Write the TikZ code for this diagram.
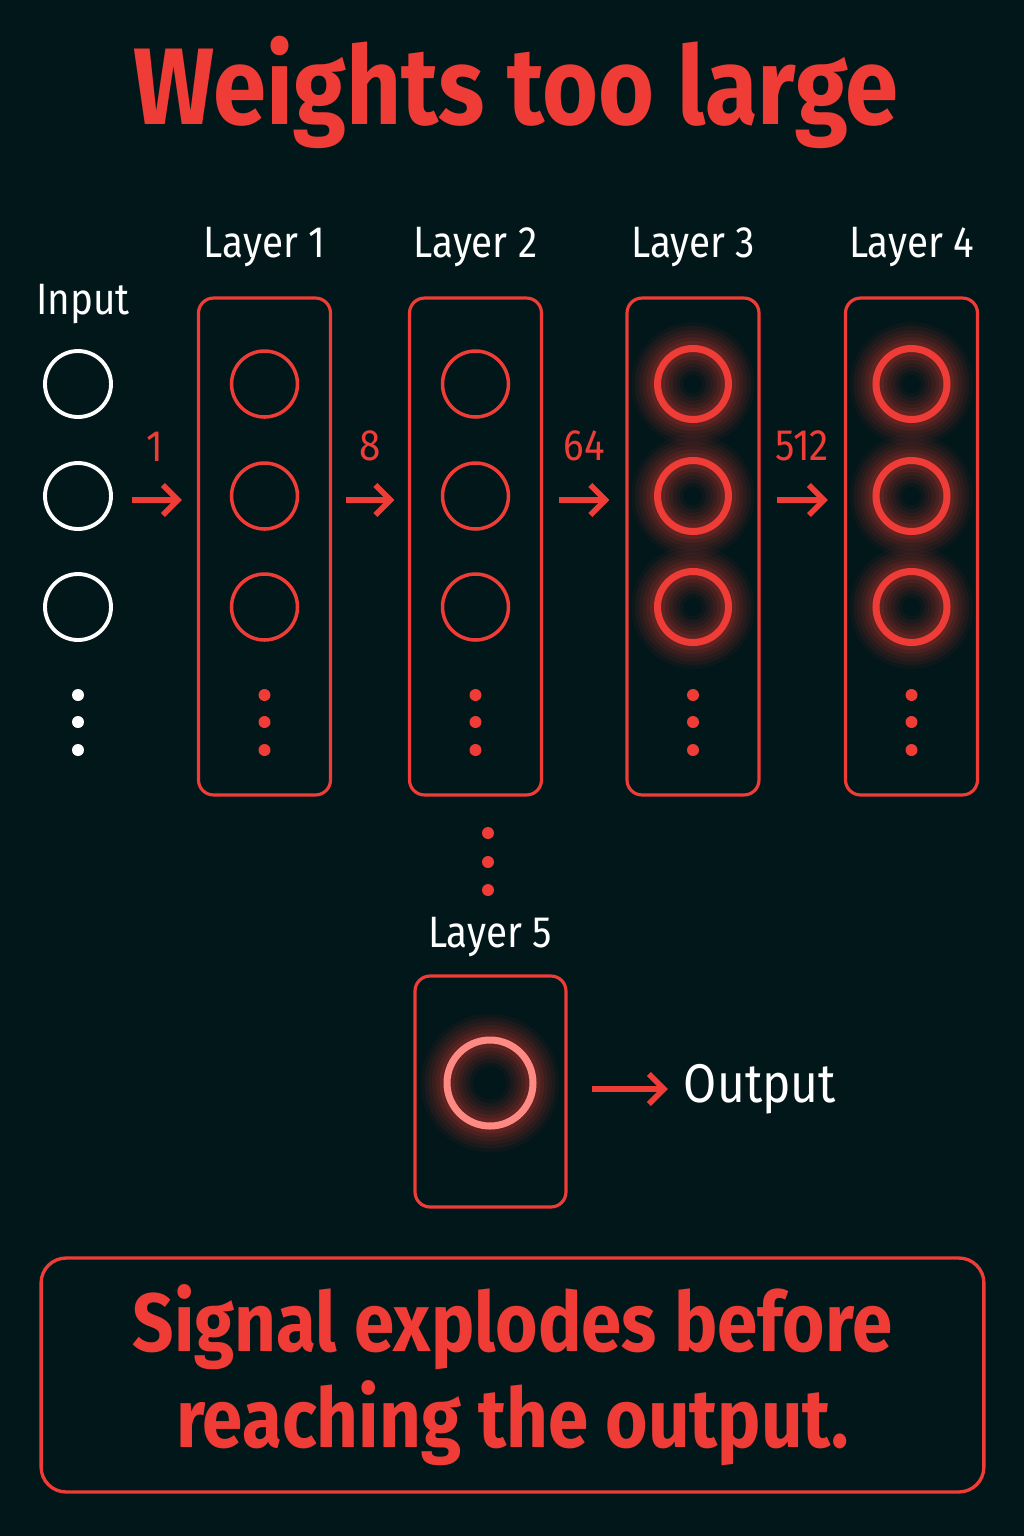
\documentclass[tikz,border=0pt]{standalone}
\usepackage{fontspec}
\setmainfont[FakeStretch=0.88]{Fira Sans}
\usetikzlibrary{arrows.meta}
\usetikzlibrary{positioning}
\definecolor{bg}{HTML}{02171A}
\definecolor{hot}{HTML}{F03C36}
\definecolor{pale}{HTML}{FF8A84}
\tikzstyle{layerbox} = [
        rectangle, draw=hot, line width=1.8pt,
        rounded corners=0.3cm,
        minimum width=2.64cm, minimum height=9.94cm
    ]
\tikzstyle{neuron} = [circle, draw=hot, line width=2pt, minimum size=1.32cm, inner sep=0pt]
\tikzstyle{inneuron} = [neuron, draw=white, line width=2.2pt]
\tikzstyle{glow} = [
        preaction={draw=hot, line width=1.05cm, opacity=0.05},
        preaction={draw=hot, line width=0.9cm, opacity=0.06},
        preaction={draw=hot, line width=0.75cm, opacity=0.07},
        preaction={draw=hot, line width=0.6cm, opacity=0.08},
        preaction={draw=hot, line width=0.45cm, opacity=0.1},
        preaction={draw=hot, line width=0.3cm, opacity=0.12}
    ]
\tikzstyle{hotneuron} = [neuron, glow, line width=4pt, minimum size=1.42cm]
\tikzstyle{dot} = [circle, fill=hot, minimum size=0.24cm, inner sep=0pt]
\tikzstyle{line} = [draw=hot, line width=3.2pt, -{Straight Barb[length=0.3cm,width=0.6cm]}]
\tikzstyle{num} = [text=hot, font=\fontsize{25}{27}\selectfont]
\tikzstyle{lab} = [text=white, font=\fontsize{25}{27}\selectfont]

\begin{document}
\begin{tikzpicture}[x=0.02cm, y=-0.02cm]
    \fill[bg] (0,0) rectangle (1024,1536);
    \useasboundingbox (0,0) rectangle (1024,1536);
    \node [text=hot, font=\fontsize{62}{64}\selectfont\bfseries] (head) at (516,92) {Weights too large};

    % input column
    \node [lab] (inlab) at (83,304) {Input};
    \foreach \y [count=\i] in {384,496,607}
        \node [inneuron] (in\i) at (78,\y) {};
    \foreach \y [count=\i] in {695,722,750}
        \node [dot, fill=white] (ind\i) at (78,\y) {};

    % hidden layers
    \foreach \x [count=\i] in {264.5,475.5,693,911.5} {
        \node [layerbox] (L\i) at (\x,546.5) {};
        \node [lab] (L\i lab) at (\x,247) {Layer \i};
        \foreach \y [count=\j] in {695,722,750}
            \node [dot] (d\i-\j) at (\x,\y) {};
    }
    \foreach \x [count=\i] in {264.5,475.5} {
        \foreach \y [count=\j] in {384,496,607}
            \node [neuron] (n\i-\j) at (\x,\y) {};
    }
    \foreach \x [count=\i from 3] in {693,911.5} {
        \foreach \y [count=\j] in {384,496,607}
            \node [hotneuron] (n\i-\j) at (\x,\y) {};
    }

    \coordinate (row) at (0,500);
    \path [line, shorten <=0.38cm, shorten >=0.3cm] (in2.east |- row) -- (L1.west |- row)
        node [num, midway, above=0.6cm] {1};
    \path [line, shorten <=0.27cm, shorten >=0.27cm] (L1.east |- row) -- (L2.west |- row)
        node [num, midway, above=0.6cm] {8};
    \path [line, shorten <=0.32cm, shorten >=0.32cm] (L2.east |- row) -- (L3.west |- row)
        node [num, midway, above=0.6cm] {64};
    \path [line, shorten <=0.32cm, shorten >=0.32cm] (L3.east |- row) -- (L4.west |- row)
        node [num, midway, above=0.6cm] {512};

    % down to the last layer
    \foreach \y [count=\i] in {833,862,890}
        \node [dot] (v\i) at (488,\y) {};
    \node [lab] (L5lab) at (490,937) {Layer 5};
    \node [layerbox, minimum width=3.02cm, minimum height=4.62cm] (L5) at (490.5,1091.5) {};
    \node [hotneuron, draw=pale, minimum size=1.72cm] (n5) at (490,1083) {};
    \node [lab, font=\fontsize{31}{33}\selectfont] (out) at (760,1089) {Output};
    \path [line, shorten <=0.48cm, shorten >=0.2cm] (L5.east |- out) -- (out.west);

    \node [draw=hot, line width=1.9pt, rounded corners=0.5cm,
        minimum width=18.86cm, minimum height=4.68cm,
        text=hot, align=center, font=\fontsize{47}{55}\selectfont\bfseries] (msg) at (512.5,1375)
        {Signal explodes before\\reaching the output.};
\end{tikzpicture}
\end{document}
